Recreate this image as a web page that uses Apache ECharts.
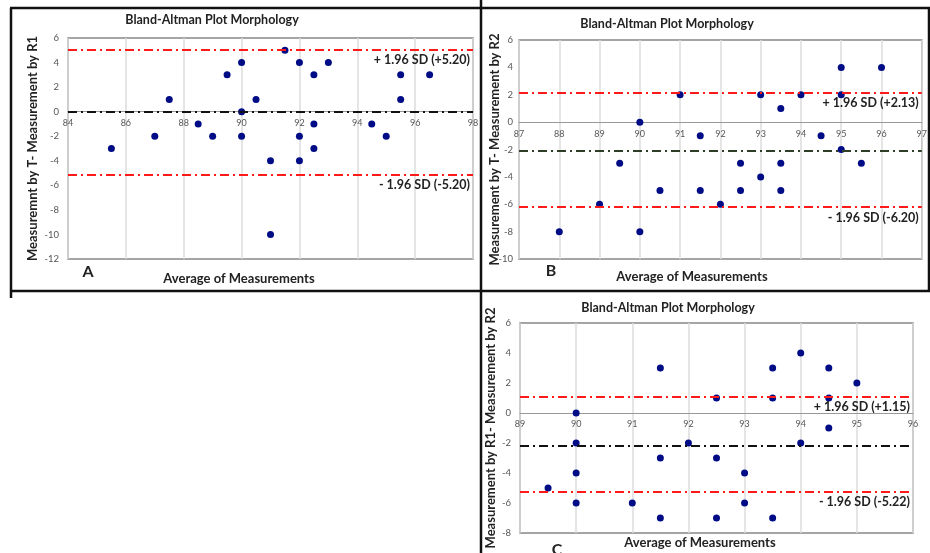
<!DOCTYPE html>
<html>
<head>
<meta charset="utf-8">
<script src="https://cdn.jsdelivr.net/npm/echarts@6/dist/echarts.min.js"></script>
<style>
html,body{margin:0;padding:0;background:#fff;}
#chart{width:930px;height:553px;}
</style>
</head>
<body>
<div id="chart"></div>
<script>
// Panel A: T vs R1
const aAvg  = [85.5, 87, 87.5, 88.5, 89, 89.5, 90, 90, 90, 90.5, 91, 91, 91.5, 92, 92, 92, 92.5, 92.5, 92.5, 93, 94.5, 95, 95.5, 95.5, 96.5];
const aDiff = [-3, -2, 1, -1, -2, 3, 4, 0, -2, 1, -4, -10, 5, 4, -2, -4, 3, -1, -3, 4, -1, -2, 3, 1, 3];
// Panel B: T vs R2
const bAvg  = [88, 89, 89.5, 90, 90, 90.5, 91, 91.5, 91.5, 92, 92.5, 92.5, 93, 93, 93.5, 93.5, 93.5, 94, 94.5, 95, 95, 95, 95.5, 96];
const bDiff = [-8, -6, -3, 0, -8, -5, 2, -1, -5, -6, -3, -5, 2, -4, 1, -3, -5, 2, -1, 4, 2, -2, -3, 4];
// Panel C: R1 vs R2
const cAvg  = [89.5, 90, 90, 90, 90, 91, 91.5, 91.5, 91.5, 92, 92.5, 92.5, 92.5, 93, 93, 93.5, 93.5, 93.5, 94, 94, 94.5, 94.5, 94.5, 95];
const cDiff = [-5, 0, -2, -4, -6, -6, 3, -3, -7, -2, 1, -3, -7, -4, -6, 3, 1, -7, 4, -2, 3, 1, -1, 2];

// limits of agreement as drawn: [upper, mean, lower]
const aLimits = [5.05, 0, -5.1];
const bLimits = [2.15, -2.1, -6.2];
const cLimits = [1.1, -2.15, -5.22];
const aLimitLabels = ['+ 1.96 SD (+5.20)', '- 1.96 SD (-5.20)'];
const bLimitLabels = ['+ 1.96 SD (+2.13)', '- 1.96 SD (-6.20)'];
const cLimitLabels = ['+ 1.96 SD (+1.15)', '- 1.96 SD (-5.22)'];

// axes [min, max, interval]
const aXRange = [84, 98, 2], aYRange = [-12, 6, 2];
const bXRange = [87, 97, 1], bYRange = [-10, 6, 2];
const cXRange = [89, 96, 1], cYRange = [-8, 6, 2];

const titleText = 'Bland-Altman Plot Morphology';
const xName = 'Average of Measurements';
const aYName = 'Measuremnt by T- Measurement by R1';
const bYName = 'Measurement by T- Measurement by R2';
const cYName = 'Measurement by R1- Measurement by R2';

const FONT = 'Lato, "Liberation Sans", sans-serif';
const chart = echarts.init(document.getElementById('chart'));

function pairs(xs, ys){ return xs.map((x,i)=>[x, ys[i]]); }

const grids = [
  {left:68, top:38, width:405, height:221},
  {left:519, top:40, width:404, height:219},
  {left:520, top:323, width:393, height:210}
];
const xr = [aXRange, bXRange, cXRange];
const yr = [aYRange, bYRange, cYRange];
const yNames = [aYName, bYName, cYName];
const yGaps = [29, 18, 23];
const yLabelMargins = [9, 6, 9];

// x axis sits where y = 0 (offset derived from the y scale)
const xAxes = xr.map((r,i)=>({
  type:'value', gridIndex:i, min:r[0], max:r[1], interval:r[2],
  position:'bottom',
  offset: -grids[i].height * (0 - yr[i][0]) / (yr[i][1] - yr[i][0]),
  axisLine:{show:true, onZero:false, lineStyle:{color:'#999', width:1}},
  axisTick:{show:false},
  splitLine:{show:true, lineStyle:{color:'#dcdcdc', width:1.5}},
  axisLabel:{fontSize:9, color:'#555', margin:7, fontFamily:FONT, showMinLabel:true, showMaxLabel:true}
}));
const yAxes = yr.map((r,i)=>({
  type:'value', gridIndex:i, min:r[0], max:r[1], interval:r[2],
  axisLine:{show:false, onZero:false},
  axisTick:{show:false},
  splitLine:{show:false},
  axisLabel:{fontSize:9.5, color:'#555', margin:yLabelMargins[i], fontFamily:FONT},
  name:yNames[i], nameLocation:'middle', nameGap:yGaps[i], nameMoveOverlap:false,
  nameTextStyle:{fontSize:13, fontWeight:'bold', color:'#222', fontFamily:FONT}
}));

function limitSeries(i, limits, labels, meanColor){
  const red = {color:'#ff1a1a', width:2, type:[9,4,2,4]};
  const lbl = t => ({show:true, formatter:t, position:'insideEndBottom', distance:[3,4],
                fontSize:12.5, fontWeight:'bold', color:'#222', fontFamily:FONT});
  return {
    type:'scatter', xAxisIndex:i, yAxisIndex:i, data:[], z:1, silent:true,
    markLine:{
      silent:true, symbol:'none', animation:false,
      data:[
        {yAxis:limits[0], lineStyle:red, label:lbl(labels[0])},
        {yAxis:limits[1], lineStyle:{color:meanColor, width:2, type:[9,4,2,4]}, label:{show:false}},
        {yAxis:limits[2], lineStyle:red, label:lbl(labels[1])}
      ]
    }
  };
}
function pointSeries(i, xs, ys){
  return {type:'scatter', xAxisIndex:i, yAxisIndex:i, data:pairs(xs,ys), z:3,
    symbol:'circle', symbolSize:7, itemStyle:{color:'#000c86', opacity:1}};
}

function txt(x, y, text, size){
  return {type:'text', x:x, y:y, style:{text:text, fontSize:size, fontWeight:'bold', fill:'#222',
          fontFamily:FONT, textAlign:'center', textVerticalAlign:'middle'}};
}
function ln(x1,y1,x2,y2){
  return {type:'line', shape:{x1:x1,y1:y1,x2:x2,y2:y2}, style:{stroke:'#111', lineWidth:2.5}};
}

chart.setOption({
  animation:false,
  backgroundColor:'#fff',
  grid: grids.map(g=>Object.assign({show:true, borderColor:'#888', borderWidth:1.5, backgroundColor:'transparent'}, g)),
  xAxis:xAxes,
  yAxis:yAxes,
  series:[
    limitSeries(0, aLimits, aLimitLabels, '#111'),
    limitSeries(1, bLimits, bLimitLabels, '#2f3f27'),
    limitSeries(2, cLimits, cLimitLabels, '#111'),
    pointSeries(0, aAvg, aDiff),
    pointSeries(1, bAvg, bDiff),
    pointSeries(2, cAvg, cDiff)
  ],
  graphic:[
    ln(10,8,930,8), ln(11,8,11,298), ln(481,0,481,553), ln(10,291,930,291), ln(929,8,929,291),
    txt(212,20,titleText,12.5), txt(667,24,titleText,12.5), txt(668,308,titleText,12.5),
    txt(239,279,xName,13), txt(692,277,xName,13), txt(700,543,xName,13),
    txt(88,272,'A',16), txt(551,271,'B',16), txt(557,550,'C',16)
  ]
});
</script>
</body>
</html>
